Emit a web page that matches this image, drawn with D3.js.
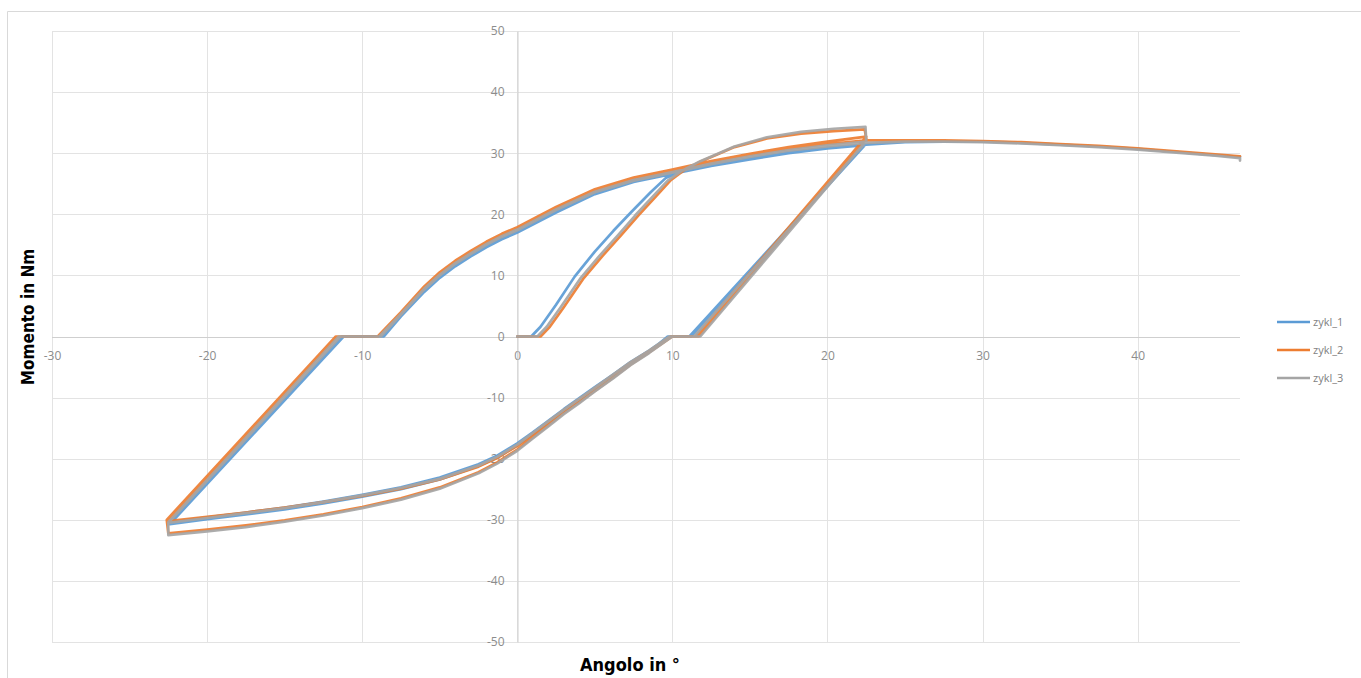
<!DOCTYPE html>
<html>
<head>
<meta charset="utf-8">
<script src="https://cdnjs.cloudflare.com/ajax/libs/d3/7.8.5/d3.min.js"></script>
<style>
  html, body { margin: 0; padding: 0; background: #ffffff; }
  svg { display: block; }
</style>
</head>
<body>
<svg id="chart" width="1361" height="678"></svg>
<script>
// ---------------- DATA ----------------
const seriesNames = ["zykl_1", "zykl_2", "zykl_3"];
const seriesColors = ["#5B9BD5", "#ED7D31", "#A5A5A5"];

const xTicks = [-30, -20, -10, 0, 10, 20, 30, 40];
const yTicks = [-50, -40, -30, -20, -10, 0, 10, 20, 30, 40, 50];
const xDomain = [-30, 46.6];
const yDomain = [-50, 50];

// [angle °, moment Nm]
const zykl_1 = [
  [0,0],[0.9,0],[1.5,1.6],[2.5,5.2],[3.7,9.8],[5,13.9],[6.2,17.3],[7.4,20.5],[8.6,23.6],[9.6,26],[10.5,26.9],[12.5,28.1],[15,29.2],[17.5,30.1],[20,30.8],[22.4,31.3],
  [11.2,0],[9.7,0],
  [8.5,-2.5],[7.3,-4.5],[6.2,-6.5],[5,-8.6],[4,-10.4],[3,-12.2],[2,-14.1],[1,-16],[0,-17.8],[-1.3,-19.8],[-2.5,-21.2],[-5,-23.4],[-7.5,-25],[-10,-26.2],[-12.5,-27.3],[-15,-28.3],[-17.5,-29.1],[-20,-29.9],[-22.4,-30.7],
  [-11.2,0],[-8.6,0],
  [-7.5,3.3],[-6,7.3],[-5,9.6],[-4,11.5],[-3,13.1],[-2,14.6],[-1,15.9],[0,17],[2.5,20.3],[5,23.3],[7.5,25.3],[10,26.6],[12.5,27.9],[15,29],[17.5,30],[20,30.8],[22.4,31.4],
  [11.1,0],[9.8,0],
  [8.5,-2.3],[7.3,-4.2],[6.2,-6.2],[5,-8.3],[4,-10.1],[3,-11.9],[2,-13.8],[1,-15.7],[0,-17.5],[-1.3,-19.5],[-2.5,-20.9],[-5,-23.1],[-7.5,-24.7],[-10,-25.9],[-12.5,-27],[-15,-28],[-17.5,-28.8],[-20,-29.6],[-22.4,-30.4],
  [-11.3,0],[-8.7,0],
  [-7.5,3.5],[-6,7.5],[-5,9.8],[-4,11.7],[-3,13.3],[-2,14.8],[-1,16.1],[0,17.2],[2.5,20.5],[5,23.5],[7.5,25.5],[10,26.8],[12.5,28.1],[15,29.2],[17.5,30.2],[20,30.9],[22.5,31.4],
  [25,31.8],[27.5,31.9],[30,31.9],[32.5,31.7],[35,31.4],[37.5,31.1],[40,30.7],[42.5,30.2],[45,29.7],[46.6,29.4]
];

const zykl_2 = [
  [0,0],[1.5,0],[2.1,1.6],[3,4.8],[4.3,9.6],[5.5,13.2],[6.7,16.6],[7.8,19.8],[8.9,22.8],[9.9,25.6],[10.8,27.3],[11.8,28.6],[13,29.9],[14,31],[16.1,32.4],[18.3,33.2],[20.4,33.6],[22.4,33.9],[22.5,32.4],
  [11.7,0],[10,0],
  [8.5,-2.6],[7.3,-4.6],[6.2,-6.7],[5,-8.9],[4,-10.7],[3,-12.5],[2,-14.5],[1,-16.5],[0,-18.5],[-1.3,-20.6],[-2.5,-22.2],[-5,-24.7],[-7.5,-26.5],[-10,-27.9],[-12.5,-29.1],[-15,-30.1],[-17.5,-30.9],[-20,-31.6],[-22.5,-32.2],[-22.6,-30],
  [-11.7,0],[-9,0],
  [-7.5,4],[-6,8.2],[-5,10.5],[-4,12.4],[-3,14],[-2,15.5],[-1,16.8],[0,17.9],[2.5,21.2],[5,24.1],[7.5,26],[10,27.3],[12.5,28.7],[15,29.9],[17.5,31],[20,31.9],[22.5,32.7],
  [11.5,0],[9.9,0],
  [8.5,-2.4],[7.3,-4.3],[6.2,-6.3],[5,-8.5],[4,-10.3],[3,-12.1],[2,-14],[1,-16],[0,-17.9],[-1.3,-19.9],[-2.5,-21.3],[-5,-23.4],[-7.5,-24.9],[-10,-26.1],[-12.5,-27.1],[-15,-28],[-17.5,-28.8],[-20,-29.5],[-22.5,-30.2],
  [-11.6,0],[-9,0],
  [-7.5,3.9],[-6,8],[-5,10.3],[-4,12.2],[-3,13.8],[-2,15.3],[-1,16.6],[0,17.7],[2.5,21],[5,23.9],[7.5,25.8],[10,27.1],[12.5,28.5],[15,29.7],[17.5,30.7],[20,31.5],[22.5,32.1],
  [25,32.1],[27.5,32.1],[30,32],[32.5,31.8],[35,31.5],[37.5,31.2],[40,30.8],[42.5,30.3],[45,29.8],[46.6,29.5]
];

const zykl_3 = [
  [0,0],[1.3,0],[1.9,1.6],[2.8,4.8],[4.1,9.6],[5.3,13.2],[6.5,16.6],[7.6,19.8],[8.7,22.8],[9.7,25.5],[10.6,27.1],[11.8,28.7],[13,30],[14,31.1],[16.1,32.6],[18.3,33.5],[20.4,34],[22.45,34.3],[22.5,32],
  [11.8,0],[10,0],
  [8.5,-2.7],[7.3,-4.7],[6.2,-6.8],[5,-9],[4,-10.9],[3,-12.7],[2,-14.7],[1,-16.7],[0,-18.7],[-1.3,-20.8],[-2.5,-22.4],[-5,-24.9],[-7.5,-26.7],[-10,-28.1],[-12.5,-29.3],[-15,-30.3],[-17.5,-31.2],[-20,-31.9],[-22.5,-32.5],[-22.5,-30.4],
  [-11.5,0],[-8.9,0],
  [-7.5,3.7],[-6,7.8],[-5,10.1],[-4,12],[-3,13.6],[-2,15.1],[-1,16.4],[0,17.5],[2.5,20.8],[5,23.7],[7.5,25.6],[10,26.9],[12.5,28.3],[15,29.5],[17.5,30.5],[20,31.3],[22.5,31.9],
  [11.4,0],[9.8,0],
  [8.5,-2.3],[7.3,-4.2],[6.2,-6.2],[5,-8.4],[4,-10.2],[3,-12],[2,-13.9],[1,-15.8],[0,-17.7],[-1.3,-19.7],[-2.5,-21.1],[-5,-23.3],[-7.5,-24.8],[-10,-26],[-12.5,-27.1],[-15,-28.1],[-17.5,-28.9],[-20,-29.7],[-22.5,-30.5],
  [-11.4,0],[-8.8,0],
  [-7.5,3.6],[-6,7.7],[-5,10],[-4,11.9],[-3,13.5],[-2,15],[-1,16.3],[0,17.4],[2.5,20.7],[5,23.6],[7.5,25.5],[10,26.8],[12.5,28.2],[15,29.4],[17.5,30.4],[20,31.1],[22.5,31.7],
  [25,31.9],[27.5,31.9],[30,31.8],[32.5,31.6],[35,31.3],[37.5,31],[40,30.6],[42.5,30.1],[45,29.6],[46.6,29.2],[46.6,28.8]
];

const seriesData = [zykl_1, zykl_2, zykl_3];

// ---------------- DRAWING ----------------
const svg = d3.select("#chart");
const W = 1361, H = 678;
const plot = { left: 52, right: 1240, top: 31, bottom: 642 };

const x = d3.scaleLinear().domain(xDomain).range([plot.left, plot.right]);
const y = d3.scaleLinear().domain(yDomain).range([plot.bottom, plot.top]);

// outer chart border
svg.append("path")
  .attr("d", `M7.5,${H} L7.5,11.5 L${W},11.5`)
  .attr("fill", "none").attr("stroke", "#D9D9D9").attr("stroke-width", 1);

// gridlines
const grid = svg.append("g");
grid.selectAll("line.h").data(yTicks).join("line")
  .attr("x1", plot.left).attr("x2", plot.right)
  .attr("y1", d => Math.round(y(d)) + 0.5).attr("y2", d => Math.round(y(d)) + 0.5)
  .attr("stroke", "#E3E3E3").attr("stroke-width", 1);
grid.selectAll("line.v").data(xTicks).join("line")
  .attr("y1", plot.top).attr("y2", plot.bottom)
  .attr("x1", d => Math.round(x(d)) + 0.5).attr("x2", d => Math.round(x(d)) + 0.5)
  .attr("stroke", "#E3E3E3").attr("stroke-width", 1);

// axes crossing at 0
const fmt = d => String(d);
const xAxis = d3.axisBottom(x).tickValues(xTicks).tickSize(0).tickPadding(14).tickFormat(fmt);
const yAxis = d3.axisLeft(y).tickValues(yTicks).tickSize(0).tickPadding(13).tickFormat(fmt);

const gx = svg.append("g").attr("transform", `translate(0,${Math.round(y(0)) + 0.5})`).call(xAxis);
const gy = svg.append("g").attr("transform", `translate(${Math.round(x(0)) + 0.5},0)`).call(yAxis);
[gx, gy].forEach(g => {
  g.select(".domain").attr("stroke", "#CFCFCF").attr("stroke-width", 1);
  g.selectAll("text").attr("fill", "#8C8C8C")
    .style("font-family", "'Open Sans', 'Noto Sans', sans-serif").style("font-size", "12px");
});
gx.select(".domain").attr("d", `M${plot.left},0H${plot.right}`);

// series lines
const line = d3.line().x(d => x(d[0])).y(d => y(d[1])).curve(d3.curveLinear);
svg.append("g").selectAll("path.s").data(seriesData).join("path")
  .attr("d", line)
  .attr("fill", "none")
  .attr("stroke", (d, i) => seriesColors[i])
  .attr("stroke-width", 2.7)
  .attr("stroke-linejoin", "round")
  .attr("stroke-linecap", "round")
  .attr("opacity", 0.92);

// legend
const legend = svg.append("g");
const lgY = d3.scaleOrdinal().domain(seriesNames).range([322, 350, 378]);
seriesNames.forEach((name, i) => {
  legend.append("line")
    .attr("x1", 1277).attr("x2", 1310)
    .attr("y1", lgY(name)).attr("y2", lgY(name))
    .attr("stroke", seriesColors[i]).attr("stroke-width", 2.7);
  legend.append("text")
    .attr("x", 1313).attr("y", lgY(name)).attr("dy", "0.35em")
    .attr("fill", "#7F7F7F")
    .style("font-family", "'Open Sans', 'Noto Sans', sans-serif").style("font-size", "11px")
    .text(name);
});

// axis titles
const titleFont = "'Liberation Sans Narrow', 'DejaVu Sans Condensed', 'Liberation Sans', sans-serif";
svg.append("text")
  .attr("x", 630).attr("y", 671)
  .attr("text-anchor", "middle")
  .style("font-family", titleFont).style("font-weight", "bold").style("font-size", "18px")
  .attr("fill", "#000").text("Angolo in °");
svg.append("text")
  .attr("transform", "translate(34,317) rotate(-90)")
  .attr("text-anchor", "middle")
  .style("font-family", titleFont).style("font-weight", "bold").style("font-size", "17px")
  .attr("fill", "#000").text("Momento in Nm");
</script>
</body>
</html>
